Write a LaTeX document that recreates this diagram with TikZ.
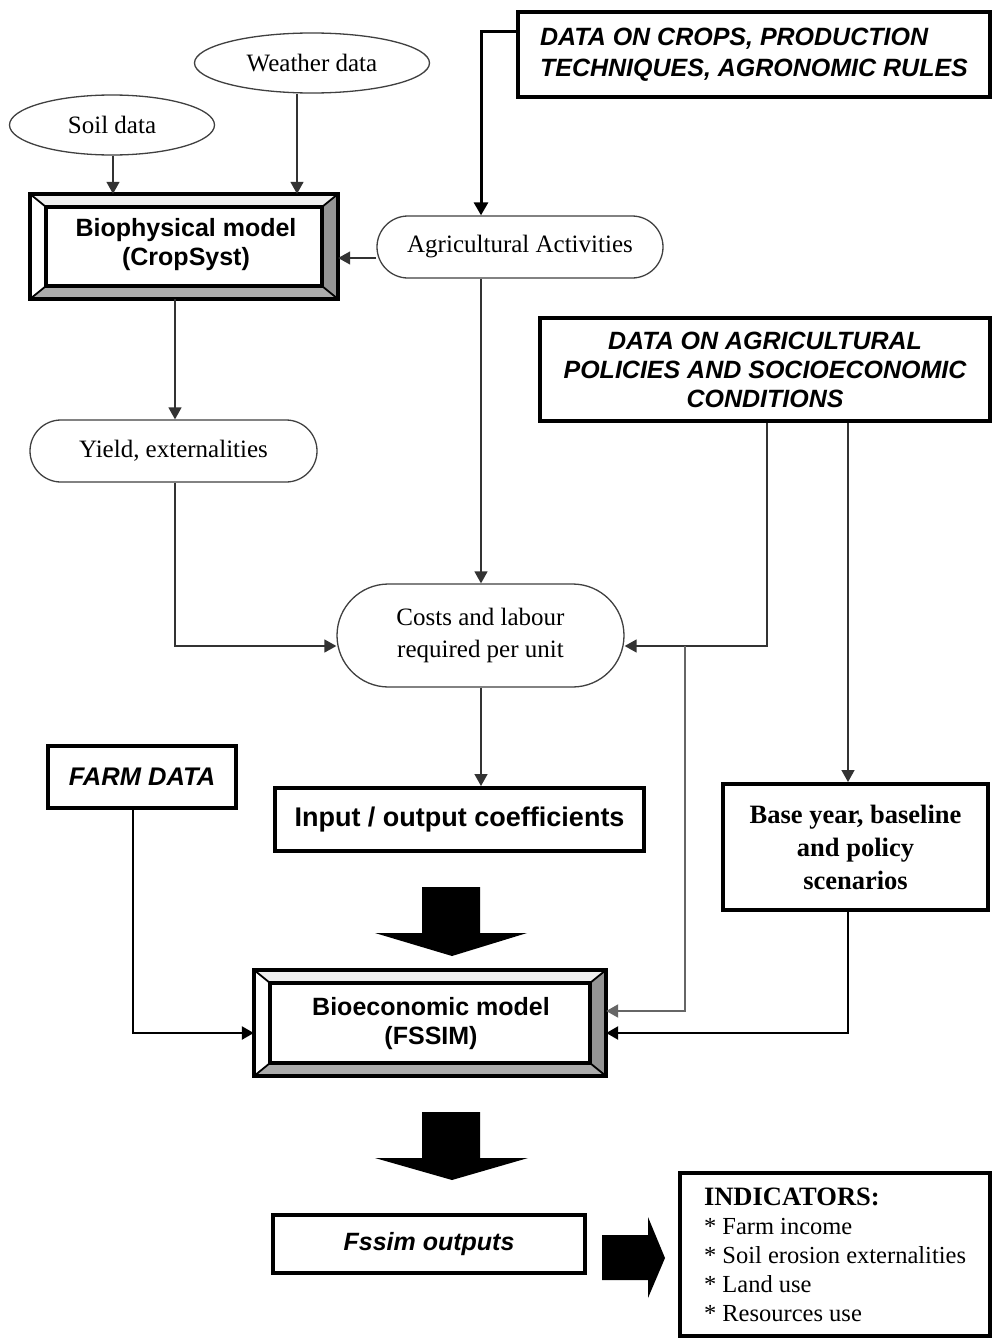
\documentclass[tikz,border=0pt]{standalone}
\usepackage{fontspec}
\setmainfont{Liberation Serif}
\newfontfamily\arialf{Liberation Sans}
\usetikzlibrary{arrows.meta,shapes.geometric,shapes.misc,calc}

\tikzset{
 conn/.style={draw=black!80, line width=1.5pt, -{Triangle[length=12pt,width=13pt]}},
 connthick/.style={draw=black, line width=3pt, -{Triangle[length=13pt,width=14pt]}},
 connmed/.style={draw=black, line width=2.5pt, -{Triangle[length=12pt,width=13pt]}},
 conngray/.style={draw=black!60, line width=2pt, -{Triangle[length=12pt,width=13pt]}},
 oval/.style={ellipse, draw=black!75, line width=1.3pt, fill=white, inner sep=0pt},
 pill/.style={rounded rectangle, draw=black!75, line width=1.3pt, fill=white, inner sep=0pt},
 tbox/.style={rectangle, draw=black, line width=4pt, fill=white, inner sep=0pt},
 bevelnode/.style={rectangle, draw=none, fill=white, inner sep=0pt},
 sertext/.style={font=\fontsize{25}{32}\selectfont, align=center},
 serbold/.style={font=\bfseries\fontsize{26.5}{33}\selectfont, align=center},
 sanstext/.style={font=\arialf\bfseries\fontsize{25}{29}\selectfont, align=center},
 sansit/.style={font=\arialf\bfseries\itshape\fontsize{25}{31}\selectfont},
 bigarrow/.style={fill=black},
}

\newcommand{\drawbevel}[3]{%
  \coordinate (#1o1) at (#1.north west);
  \coordinate (#1o2) at (#1.north east);
  \coordinate (#1o3) at (#1.south east);
  \coordinate (#1o4) at (#1.south west);
  \coordinate (#1i1) at ($(#1o1)+(#2,#3)$);
  \coordinate (#1i2) at ($(#1o2)+(-#2,#3)$);
  \coordinate (#1i3) at ($(#1o3)+(-#2,-#3)$);
  \coordinate (#1i4) at ($(#1o4)+(#2,-#3)$);
  \fill[black!6] (#1o1) -- (#1o2) -- (#1i2) -- (#1i1) -- cycle;
  \fill[white] (#1o1) -- (#1i1) -- (#1i4) -- (#1o4) -- cycle;
  \fill[black!42] (#1o2) -- (#1o3) -- (#1i3) -- (#1i2) -- cycle;
  \fill[black!33] (#1o4) -- (#1o3) -- (#1i3) -- (#1i4) -- cycle;
  \draw[line width=1.8pt] (#1o1)--(#1i1) (#1o2)--(#1i2) (#1o3)--(#1i3) (#1o4)--(#1i4);
  \draw[line width=4.5pt] (#1o1) rectangle (#1o3);
  \draw[line width=3.5pt] (#1i1) rectangle (#1i3);
}

\begin{document}
\begin{tikzpicture}[x=1pt,y=-1pt]
\useasboundingbox[fill=white] (0,0) rectangle (992,1338);

% helper coordinates
\coordinate (xS) at (113,0);
\coordinate (xW) at (297,0);
\coordinate (xY) at (175,0);
\coordinate (xA) at (481,0);
\coordinate (xP1) at (767,0);
\coordinate (xP2) at (848,0);
\coordinate (xB) at (685,0);
\coordinate (xF) at (133,0);
\coordinate (yC) at (0,32);
\coordinate (yAg) at (0,258);
\coordinate (yRow) at (0,646);
\coordinate (yF1) at (0,1011);
\coordinate (yF2) at (0,1033);

% nodes
\node[oval, minimum width=235, minimum height=60, sertext] (weather) at (312,63) {Weather data};
\node[oval, minimum width=205, minimum height=60, sertext] (soil) at (112,125) {Soil data};

\node[bevelnode, minimum width=308, minimum height=105] (bio) at (184,246.5) {};
\drawbevel{bio}{16}{13}
\node[sanstext] (biotext) at (186,245) {Biophysical model\\(CropSyst)};

\node[tbox, minimum width=472, minimum height=85, sansit, align=left] (crops) at (754,54.5)
  {DATA ON CROPS, PRODUCTION\\TECHNIQUES, AGRONOMIC RULES};

\node[pill, minimum width=286, minimum height=62, sertext] (agri) at (520,247) {Agricultural Activities};

\node[tbox, minimum width=450, minimum height=103, sansit, align=center,
      font=\arialf\bfseries\itshape\fontsize{25}{29}\selectfont] (policy) at (765,369.5)
  {DATA ON AGRICULTURAL\\POLICIES AND SOCIOECONOMIC\\CONDITIONS};

\node[pill, minimum width=287, minimum height=62, sertext] (yield) at (173.5,451) {Yield, externalities};

\node[pill, minimum width=287, minimum height=103, sertext] (costs) at (480.5,635.5)
  {Costs and labour\\required per unit};

\node[tbox, minimum width=188, minimum height=62, sansit,
      font=\arialf\bfseries\itshape\fontsize{25.5}{31}\selectfont] (farm) at (142,777) {FARM DATA};

\node[tbox, minimum width=369, minimum height=63, sanstext,
      font=\arialf\bfseries\fontsize{27}{29}\selectfont] (io) at (459.5,819.5) {Input / output coefficients};

\node[tbox, minimum width=265, minimum height=126, serbold] (base) at (855.5,847)
  {Base year, baseline\\and policy\\scenarios};

\node[bevelnode, minimum width=352, minimum height=106] (fssim) at (430,1023) {};
\drawbevel{fssim}{16}{13}
\node[sanstext] (fssimtext) at (431,1024) {Bioeconomic model\\(FSSIM)};

\node[tbox, line width=3.5pt, minimum width=312, minimum height=58, sansit] (outs) at (429,1244) {Fssim outputs};

\node[tbox, line width=3.5pt, minimum width=310, minimum height=163, align=left,
      font=\fontsize{24.5}{29}\selectfont] (ind) at (835,1254.5)
  {{\bfseries\fontsize{26.5}{29}\selectfont INDICATORS:}\\\relax* Farm income\\\relax* Soil erosion externalities\\\relax* Land use\\\relax* Resources use};

% connectors
\draw[conn] (soil.south -| xS) -- (bio.north -| xS);
\draw[conn] (weather.south -| xW) -- (bio.north -| xW);
\draw[connthick] (crops.west |- yC) -| (agri.north -| xA);
\draw[conn] (agri.west |- yAg) -- (bio.east |- yAg);
\draw[conn] (agri.south -| xA) -- (costs.north -| xA);
\draw[conn] (bio.south -| xY) -- (yield.north -| xY);
\draw[conn] (yield.south -| xY) |- (costs.west |- yRow);
\draw[conn] (policy.south -| xP1) |- (costs.east |- yRow);
\draw[conngray] (xB |- yRow) |- (fssim.east |- yF1);
\draw[conn] (policy.south -| xP2) -- (base.north -| xP2);
\draw[connmed] (base.south -| xP2) |- (fssim.east |- yF2);
\draw[connmed] (farm.south -| xF) |- (fssim.west |- yF2);
\draw[conn] (costs.south -| xA) -- (io.north -| xA);

% block arrows
\fill[bigarrow] (422,887) -- (480,887) -- (480,933) -- (527,933) -- (452,956) -- (375,933) -- (422,933) -- cycle;
\fill[bigarrow] (422,1112) -- (480,1112) -- (480,1158) -- (528,1158) -- (452,1180) -- (375,1158) -- (422,1158) -- cycle;
\fill[bigarrow] (602,1235) -- (648,1235) -- (648,1217) -- (665,1258) -- (648,1298) -- (648,1280) -- (602,1280) -- cycle;
\end{tikzpicture}
\end{document}
